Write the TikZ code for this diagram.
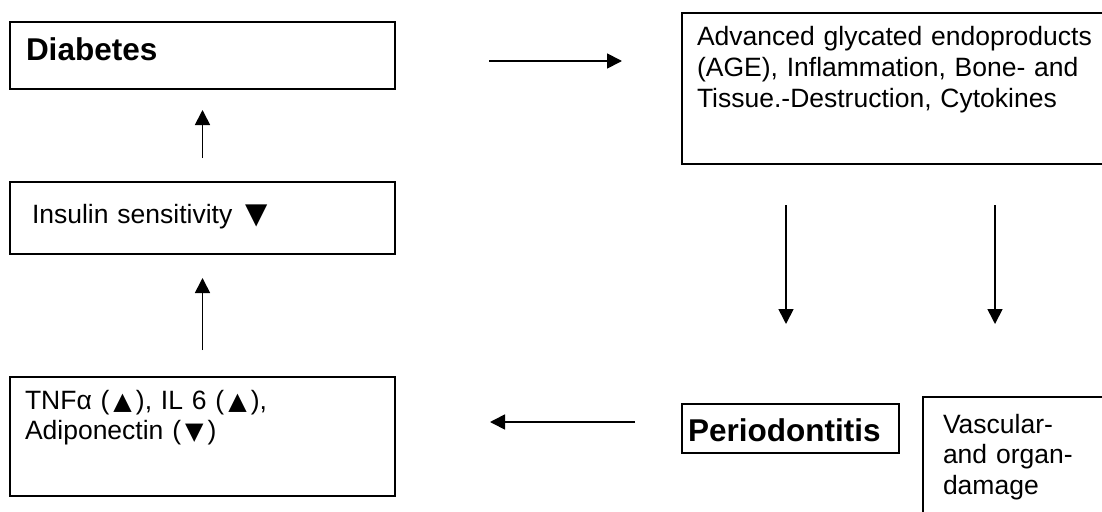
\documentclass[tikz,border=0pt]{standalone}
\usepackage{fontspec}
\setmainfont{Liberation Sans}
\newfontfamily\trifont{DejaVu Sans}
\usetikzlibrary{arrows.meta}
\newcommand{\boxtextfont}{\fontsize{26.5}{30.5}\selectfont}
\newcommand{\boxheadfont}{\fontsize{31.5}{36}\selectfont\bfseries}
\newcommand{\tri}[2][24]{{\fontsize{#1}{#1}\trifont\,#2\,}}

\begin{document}
\begin{tikzpicture}[
  x=1pt, y=-1pt,
  every node/.style={font=\boxtextfont},
  box/.style={draw,line width=1.8pt,anchor=north west,align=left,outer sep=0pt,inner ysep=0pt},
  headbox/.style={box,font=\boxheadfont},
  edge/.style={->,line width=1.7pt},
  >={Triangle[length=15pt,width=15pt]}
]
\useasboundingbox (0,0) rectangle (1102,511);
\clip (0,0) rectangle (1102,511);

\node[headbox,inner xsep=16pt,text width=353pt,text height=38pt,text depth=29pt] (diab) at (10,22) {Diabetes};
\node[box,inner xsep=22pt,text width=341pt,text height=41pt,text depth=31pt] (insul) at (10,182) {Insulin sensitivity\hspace{13pt}{\fontsize{29}{29}\trifont ▼}};
\node[box,inner xsep=15pt,text width=355pt,text height=32pt,text depth=87pt] (tnf) at (10,377) {TNFα (\tri{▲}), IL 6 (\tri{▲}),\\ Adiponectin (\tri{▼})};
\node[box,inner xsep=15pt,text width=398pt,text height=33pt,text depth=118pt] (age) at (682,13) {Advanced glycated endoproducts\\ (AGE), Inflammation, Bone- and\\ Tissue.-Destruction, Cytokines};
\node[headbox,inner xsep=6pt,text width=205pt,text height=37pt,text depth=12pt] (peri) at (682,404) {Periodontitis};
\node[box,inner xsep=20pt,text width=150pt,text height=36pt,text depth=87pt] (vasc) at (923,397) {Vascular-\\ and organ-\\ damage};

\coordinate (pin) at ([xshift=104pt]age.south west);
\coordinate (vin) at ([xshift=72pt]vasc.north west);

\draw[edge,shorten <=94pt,shorten >=60pt] ([yshift=-5.5pt]diab.east) -- ([yshift=-5.5pt]diab.east -| age.west);
\draw[edge,shorten <=41pt,shorten >=80pt] (pin) -- (pin |- peri.north);
\draw[edge,shorten <=41pt,shorten >=73pt] (age.south -| vin) -- (vin);
\draw[edge,shorten <=47pt,shorten >=95pt] ([yshift=6.5pt]peri.west) -- ([yshift=6.5pt]peri.west -| tnf.east);
\draw[edge,shorten <=27pt,shorten >=24pt] (tnf) -- (insul);
\draw[edge,shorten <=24pt,shorten >=21pt] (insul) -- (diab);
\end{tikzpicture}
\end{document}
